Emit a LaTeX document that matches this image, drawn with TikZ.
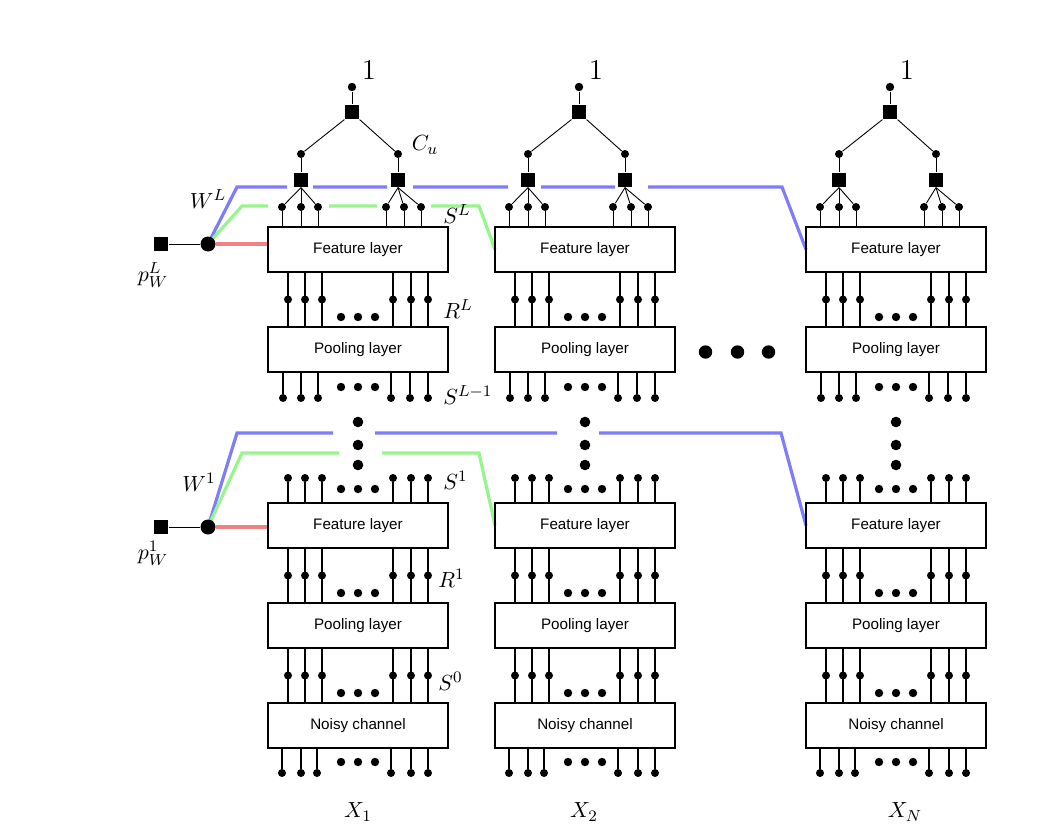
\documentclass[tikz,border=0pt]{standalone}
\usepackage{fontspec}
\setsansfont{Liberation Sans}
\usepackage{xcolor}
\usetikzlibrary{backgrounds, positioning, calc}
\definecolor{wblue}{RGB}{125,125,250}
\definecolor{sgreen}{RGB}{150,245,140}
\definecolor{rred}{RGB}{240,130,130}

\begin{document}
\begin{tikzpicture}[x=0.5pt, y=-0.5pt,
  layer/.style={draw, line width=0.8pt, minimum width=90pt, minimum height=22.5pt,
                inner sep=0pt, outer sep=0pt, font=\fontsize{7.6}{9}\sffamily},
  wire/.style={line width=0.7pt},
  thinwire/.style={line width=0.45pt},
  wdot/.style={circle, fill, inner sep=0pt, minimum size=4pt},
  edot/.style={circle, fill, inner sep=0pt, minimum size=4.2pt},
  vdot/.style={circle, fill, inner sep=0pt, minimum size=5.3pt},
  hdot/.style={circle, fill, inner sep=0pt, minimum size=6.7pt},
  bigdot/.style={circle, fill, inner sep=0pt, minimum size=7.5pt},
  fsq/.style={fill, inner sep=0pt, minimum size=7.2pt},
  lab/.style={font=\fontsize{11}{13}\selectfont, inner sep=0pt},
  one/.style={font=\fontsize{14.5}{16}\selectfont, inner sep=0pt},
  wpath/.style={line width=1.6pt},
]
\useasboundingbox (0,0) rectangle (1052,834);
%
\node[layer] (featL-a) at (358,249.5) {Feature layer};
\node[layer, right=23.5pt of featL-a] (featL-b) {Feature layer};
\node[layer, right=65.5pt of featL-b] (featL-n) {Feature layer};

\foreach \col in {a,b,n}{
  \node[layer, below=27.5pt of featL-\col] (poolL-\col) {Pooling layer};
  \node[layer, below=65.5pt of poolL-\col] (featA-\col) {Feature layer};
  \node[layer, below=27.5pt of featA-\col] (poolA-\col) {Pooling layer};
  \node[layer, below=27.5pt of poolA-\col] (noisy-\col) {Noisy channel};
  %
  \foreach \up/\lo in {featL/poolL,featA/poolA,poolA/noisy}{
    \foreach \ox [count=\i] in {20,37,54,125,143,160}
      \draw[wire] ($(\up-\col.south west)+(\ox,0)$) -- node[wdot] (\lo-\col-r\i) {}
                  ($(\lo-\col.north west)+(\ox,0)$);
    \foreach \ex [count=\i] in {-17,0,17}
      \node[edot] (\lo-\col-e\i) at ($(\lo-\col.north)+(\ex,-10)$) {};
  }
  % inputs of the top feature layer and the factor tree
  \foreach \ox [count=\i] in {14,33,50,118,136,153}{
    \node[wdot] (s-\col-\i) at ($(featL-\col.north west)+(\ox,-20)$) {};
    \draw[thinwire] (s-\col-\i) -- (s-\col-\i |- featL-\col.north);
  }
  \node[fsq] (fl-\col) at ($(featL-\col.north west)+(33,-47)$) {};
  \node[fsq] (fr-\col) at ($(featL-\col.north west)+(130,-47)$) {};
  \node[wdot] (ml-\col) at ($(featL-\col.north west)+(33,-73)$) {};
  \node[wdot] (mr-\col) at ($(featL-\col.north west)+(130,-73)$) {};
  \node[fsq] (cu-\col) at ($(featL-\col.north west)+(84,-115)$) {};
  \node[edot] (td-\col) at ($(featL-\col.north west)+(84,-140)$) {};
  \node[one] (one-\col) at ($(featL-\col.north west)+(101,-157)$) {$1$};
  \foreach \i in {1,2,3} \draw[thinwire] (fl-\col.south) -- (s-\col-\i);
  \foreach \i in {4,5,6} \draw[thinwire] (fr-\col.south) -- (s-\col-\i);
  \draw[thinwire] (ml-\col) -- (fl-\col);
  \draw[thinwire] (mr-\col) -- (fr-\col);
  \draw[thinwire] (cu-\col.south west) -- (ml-\col);
  \draw[thinwire] (cu-\col.south east) -- (mr-\col);
  \draw[thinwire] (td-\col) -- (cu-\col);
  % outputs of the top pooling layer
  \foreach \ox [count=\i] in {15,33,50,123,142,160}{
    \node[wdot] (b-\col-\i) at ($(poolL-\col.south west)+(\ox,26)$) {};
    \draw[wire] (b-\col-\i |- poolL-\col.south) -- (b-\col-\i);
  }
  \foreach \ex [count=\i] in {-17,0,17}
    \node[edot] (b-\col-e\i) at ($(poolL-\col.south)+(\ex,15)$) {};
  \foreach \vy [count=\i] in {50,73,93}
    \node[vdot] (vd-\col-\i) at ($(poolL-\col.south)+(0,\vy)$) {};
  % inputs of the first feature layer
  \foreach \ox [count=\i] in {20,37,54,125,143,160}{
    \node[wdot] (t-\col-\i) at ($(featA-\col.north west)+(\ox,-25)$) {};
    \draw[wire] (t-\col-\i) -- (t-\col-\i |- featA-\col.north);
  }
  \foreach \ex [count=\i] in {-17,0,17}
    \node[edot] (t-\col-e\i) at ($(featA-\col.north)+(\ex,-14)$) {};
  % channel outputs
  \foreach \ox [count=\i] in {14,33,49,123,143,160}{
    \node[wdot] (x-\col-\i) at ($(noisy-\col.south west)+(\ox,25)$) {};
    \draw[wire] (x-\col-\i |- noisy-\col.south) -- (x-\col-\i);
  }
  \foreach \ex [count=\i] in {-17,0,17}
    \node[edot] (x-\col-e\i) at ($(noisy-\col.south)+(\ex,14)$) {};
}

\coordinate (mid) at ($(poolL-b.east)!0.5!(poolL-n.west)$);
\foreach \hx [count=\i] in {-35,-3,28}
  \node[hdot] (hd\i) at ($(mid)+(\hx,2.5)$) {};

% weights
\node[bigdot] (pdL) at (208,244) {};
\node[fsq] (pL) at (161,244) {};
\node[bigdot] (pd1) at (208,527) {};
\node[fsq] (p1) at (161,527) {};
\draw[thinwire] (pL) -- (pdL);
\draw[thinwire] (p1) -- (pd1);

\begin{scope}[on background layer]
\draw[wpath, rred] (pdL) -- (pdL -| featL-a.west);
\draw[wpath, wblue] (pdL.center) -- (237,187) -- (287,187) (313,187) -- (387,187)
  (413,187) -- (508,187) (541,187) -- (615,187) (648,187) -- (782,187) -- (featL-n.west);
\draw[wpath, sgreen] (pdL.center) -- (242,206) -- (268,206) (329,206) -- (377,206)
  (431,206) -- (479,206) -- (featL-b.west);
\draw[wpath, rred] (pd1) -- (pd1 -| featA-a.west);
\draw[wpath, wblue] (pd1.center) -- (237,433) -- (333,433) (375,433) -- (557,433)
  (599,433) -- (781,433) -- (featA-n.west);
\draw[wpath, sgreen] (pd1.center) -- (242,453) -- (339,453) (382,453) -- (479,453)
  -- (featA-b.west);
\end{scope}

% labels
\node[lab] (lab-cu) at (425,145) {$C_u$};
\node[lab] (lab-wL) at (208,199) {$W^L$};
\node[lab] (lab-pL) at (153,275) {$p_W^L$};
\node[lab] (lab-w1) at (199,482) {$W^1$};
\node[lab] (lab-p1) at (153,553) {$p_W^1$};
\node[lab, anchor=west] (lab-sL) at (443,214) {$S^L$};
\node[lab, anchor=west] (lab-rL) at (443,309) {$R^L$};
\node[lab, anchor=west] (lab-sL1) at (443,395) {$S^{L-1}$};
\node[lab, anchor=west] (lab-s1) at (443,480) {$S^1$};
\node[lab, anchor=west] (lab-r1) at (438,578) {$R^1$};
\node[lab, anchor=west] (lab-s0) at (438,681) {$S^0$};
\node[lab] (lab-x1) at (358,812) {$X_1$};
\node[lab] (lab-x2) at (584,812) {$X_2$};
\node[lab] (lab-xn) at (905,812) {$X_N$};
%
\end{tikzpicture}
\end{document}
